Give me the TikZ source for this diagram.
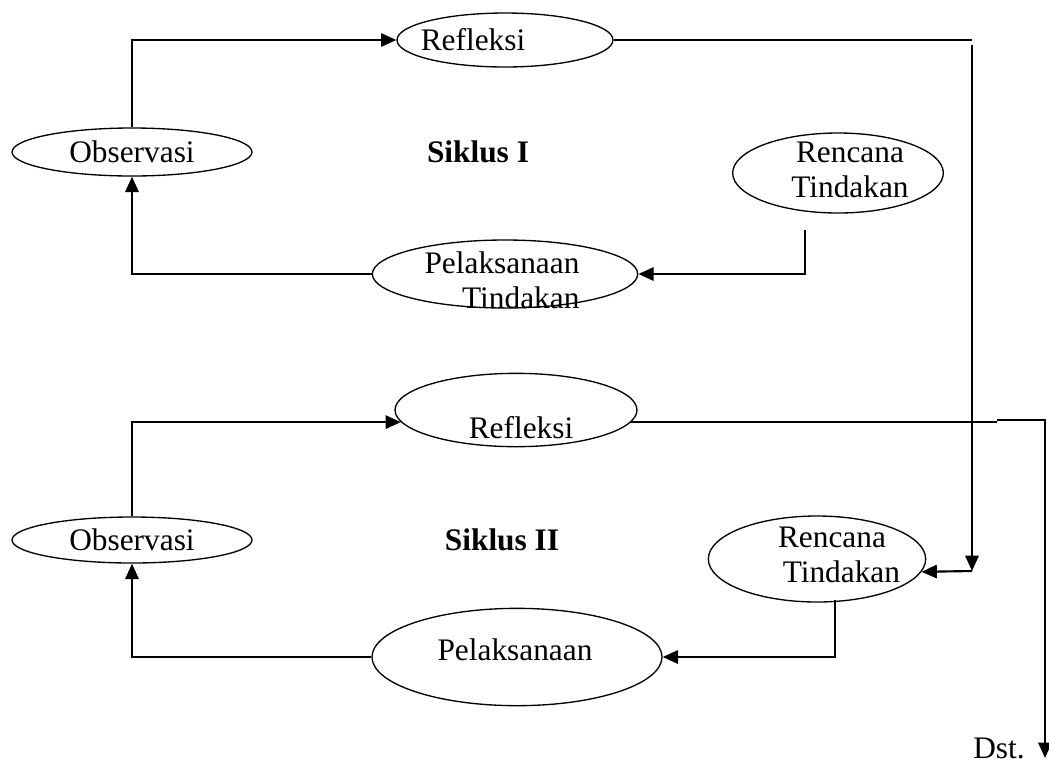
\documentclass[tikz,border=0pt]{standalone}
\usepackage{fontspec}
\setmainfont{Liberation Serif}
\usetikzlibrary{arrows.meta,shapes.geometric}

\begin{document}
\begin{tikzpicture}[x=0.75pt, y=-0.75pt,
    oval/.style={draw, ellipse, inner sep=0pt, line width=1pt},
    lbl/.style={align=center, inner sep=0pt, font=\fontsize{23.5}{26}\selectfont},
    ln/.style={line width=1.3pt},
    arr/.style={line width=1.6pt, -{Triangle[length=11.5pt,width=10pt]}}]

\useasboundingbox (0,0) rectangle (1049,769);

% siklus I
\node [oval, minimum width=162pt, minimum height=40.5pt] (ref1) at (505,40) {};
\node [oval, minimum width=180pt, minimum height=36pt]   (obs1) at (132,152) {};
\node [oval, minimum width=158pt, minimum height=60pt]   (ren1) at (838,173) {};
\node [oval, minimum width=199pt, minimum height=51pt]   (pel1) at (505,274) {};

\node [lbl] (ref1t) at (473,40)  {Refleksi};
\node [lbl] (obs1t) at (132,152) {Observasi};
\node [lbl] (ren1t) at (850,170) {Rencana\\Tindakan};
\node [lbl] (pel1t) at (502,280) {Pelaksanaan\\\hspace*{1.2em}Tindakan};
\node [lbl, font=\fontsize{23.5}{26}\selectfont\bfseries] (sik1) at (478,152) {Siklus I};

% siklus II
\node [oval, minimum width=181.5pt, minimum height=55pt] (ref2) at (516,410) {};
\node [oval, minimum width=180pt, minimum height=34.5pt] (obs2) at (132,540) {};
\node [oval, minimum width=163pt, minimum height=64.5pt] (ren2) at (817,559) {};
\node [oval, minimum width=217.5pt, minimum height=73pt] (pel2) at (517,657) {};

\node [lbl] (ref2t) at (521,428) {Refleksi};
\node [lbl] (obs2t) at (132,540) {Observasi};
\node [lbl] (ren2t) at (832,555) {Rencana\\\hspace*{0.6em}Tindakan};
\node [lbl] (pel2t) at (515,650) {Pelaksanaan};
\node [lbl, font=\fontsize{23.5}{26}\selectfont\bfseries] (sik2) at (502,540) {Siklus II};

\node [lbl] (dst) at (999,748) {Dst.};

\coordinate (k1) at (972,40);
\coordinate (k2) at (972,45);
\coordinate (k3) at (972,571);
\coordinate (k4) at (805,230);
\coordinate (k5) at (997,422);
\coordinate (k6) at (997,420);
\coordinate (k7) at (1045,758);
\coordinate (k8) at (835,600);

% siklus I
\draw [arr] (obs1.north) -- (obs1.north |- ref1.west) -- (ref1.west);
\draw [ln] (ref1.east) -- (k1);
\draw [arr] (k2) -- (k3);
\draw [arr] (k4) -- (k4 |- pel1.east) -- (pel1.east);
\draw [arr] (pel1.west) -- (obs1.south |- pel1.west) -- (obs1.south);

% siklus II
\draw [arr] (k3) -- (ren2.-7);
\draw [arr] (obs2.north) -- (obs2.north |- ref2.186) -- (ref2.186);
\draw [ln] (ref2.-6) -- (k5);
\draw [arr] (k6) -- (k6 -| k7) -- (k7);
\draw [arr] (k8) -- (k8 |- pel2.east) -- (pel2.east);
\draw [arr] (pel2.west) -- (obs2.south |- pel2.west) -- (obs2.south);

\end{tikzpicture}
\end{document}
